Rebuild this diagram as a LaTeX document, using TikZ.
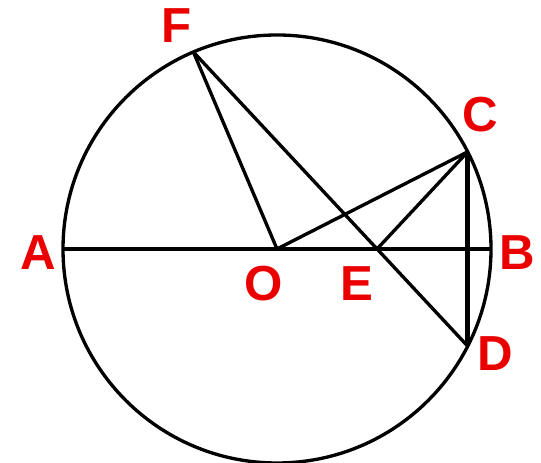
\documentclass[tikz,border=0pt]{standalone}
\usepackage{fontspec}
\setmainfont{Liberation Sans}
\usepackage{tikz}
\usetikzlibrary{calc}

\begin{document}
\begin{tikzpicture}
    \colorlet{lblred}{red!92!black}
    \tikzset{
        chord/.style={black, line width=0.95pt},
        ptlabel/.style={text=lblred, font=\fontsize{14}{14}\selectfont\bfseries, inner sep=0pt}
    }
    \useasboundingbox (0,0) rectangle (5.41,4.63);

    % points
    \coordinate (O) at (2.77,2.14);
    \coordinate (A) at ($(O)+(180:2.14)$);
    \coordinate (B) at ($(O)+(0:2.14)$);
    \coordinate (C) at ($(O)+(27:2.14)$);
    \coordinate (D) at ($(O)+(-27:2.14)$);
    \coordinate (E) at ($(O)+(1.00,0)$);
    \coordinate (F) at ($(O)+(113:2.14)$);

    % circle and chords
    \draw[chord] (O) circle (2.14);
    \draw[black, line width=1.25pt] (A) -- (B);
    \draw[chord] (O) -- (F);
    \draw[chord] (F) -- (D);
    \draw[chord] (O) -- (C);
    \draw[chord] (E) -- (C);
    \draw[black, line width=1.25pt] (C) -- (D);

    % labels
    \node[ptlabel] (lA) at (0.38,2.10) {A};
    \node[ptlabel] (lB) at (5.17,2.10) {B};
    \node[ptlabel] (lC) at (4.80,3.48) {C};
    \node[ptlabel] (lD) at (4.95,1.09) {D};
    \node[ptlabel] (lE) at (3.57,1.79) {E};
    \node[ptlabel] (lF) at (1.77,4.37) {F};
    \node[ptlabel] (lO) at (2.64,1.79) {O};
\end{tikzpicture}
\end{document}
